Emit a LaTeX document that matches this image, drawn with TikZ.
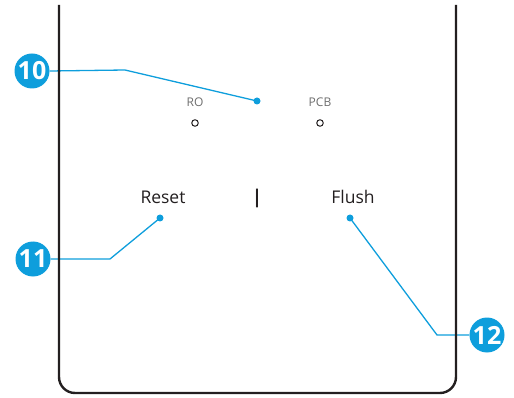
\documentclass[tikz,border=0pt]{standalone}
\usepackage{fontspec}
\setmainfont{Open Sans}
\definecolor{callout}{RGB}{14,158,220}
\definecolor{frame}{RGB}{35,31,32}
\definecolor{lbl}{RGB}{110,110,110}
\begin{document}
\begin{tikzpicture}[x=1pt,y=-1pt,
  badge/.style={circle,fill=callout,minimum size=35pt,inner sep=0pt,text=white,font=\bfseries\fontsize{25}{25}\selectfont},
  leader/.style={callout,line width=1.3pt},
  dot/.style={circle,fill=callout,minimum size=7pt,inner sep=0pt},
  led/.style={circle,draw=frame,line width=1pt,minimum size=6.5pt,inner sep=0pt},
  small/.style={text=lbl,font=\fontsize{12}{12}\selectfont},
  big/.style={text=frame,font=\fontsize{17.5}{17.5}\selectfont}]
\useasboundingbox (0,0) rectangle (514,398);
% labels
\node[small] (ro) at (195,102) {RO};
\node[small] (pcb) at (320,102) {PCB};
\node[led] (roled) at (195,123) {};
\node[led] (pcbled) at (320,123) {};
\node[big] (reset) at (163,197) {Reset};
\node[big,font=\bfseries\fontsize{19}{19}\selectfont] (bar) at (257,198) {|};
\node[big] (flush) at (353,197) {Flush};
% dots
\node[dot] (d10) at (257,101) {};
\node[dot] (d11) at (160,218) {};
\node[dot] (d12) at (350,218) {};
% leaders
\coordinate (b10) at (125,70);
\coordinate (b11) at (110,259);
\coordinate (b12) at (437,335);
\node[badge] (n10) at (32,71) {10};
\node[badge] (n11) at (33,259) {11};
\node[badge] (n12) at (487,335) {12};
\draw[leader] (n10.east) -- (b10) -- (d10.center);
\draw[leader] (n11.east) -- (b11) -- (d11.center);
\draw[leader] (n12.west) -- (b12) -- (d12.center);
% housing
\draw[frame,line width=2.4pt,rounded corners=16pt] (59,5) -- (59,393) -- (456,393) -- (456,5);
\end{tikzpicture}
\end{document}
